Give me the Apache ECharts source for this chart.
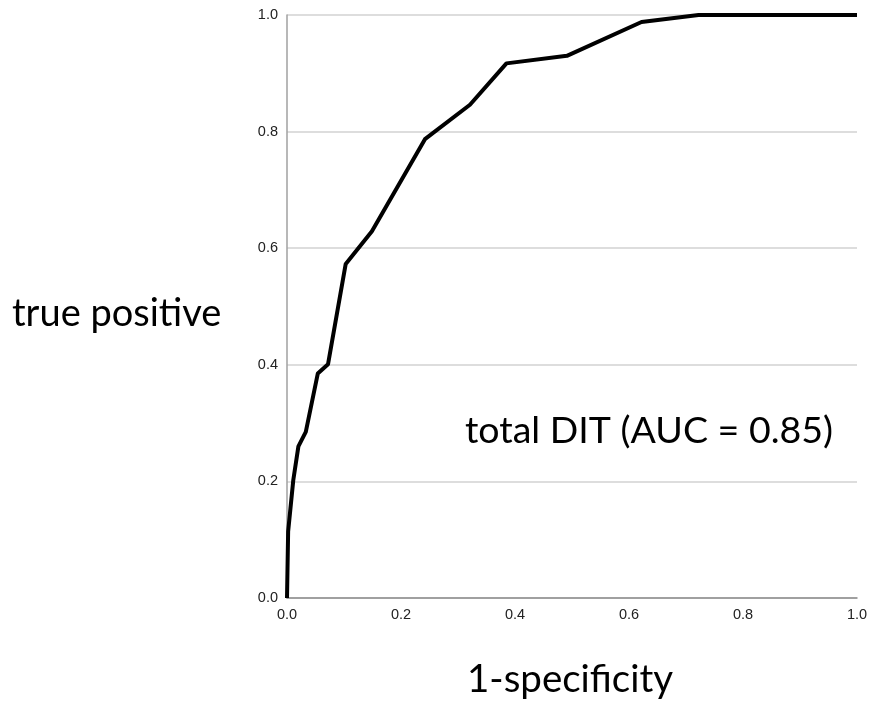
<!DOCTYPE html>
<html>
<head>
<meta charset="utf-8">
<script src="https://cdn.jsdelivr.net/npm/echarts@6/dist/echarts.min.js"></script>
<style>
html,body{margin:0;padding:0;background:#fff;}
#chart{width:873px;height:703px;}
</style>
</head>
<body>
<div id="chart"></div>
<script>
const fpr = [0, 0.002, 0.011, 0.02, 0.033, 0.054, 0.072, 0.103, 0.149, 0.242, 0.321, 0.385, 0.491, 0.622, 0.722, 1.0];
const tpr = [0, 0.114, 0.202, 0.26, 0.285, 0.385, 0.401, 0.573, 0.629, 0.787, 0.846, 0.917, 0.930, 0.988, 1.0, 1.0];
const yTitle = 'true positive';
const xTitle = '1-specificity';
const annotation = 'total DIT (AUC = 0.85)';

const chart = echarts.init(document.getElementById('chart'));
chart.setOption({
  backgroundColor: '#ffffff',
  animation: false,
  grid: { left: 287, top: 15, right: 16, bottom: 105 },
  xAxis: {
    type: 'value', min: 0, max: 1, interval: 0.2,
    axisLine: { show: true, lineStyle: { color: '#8c8c8c', width: 1.5 } },
    axisTick: { show: false },
    splitLine: { show: false },
    axisLabel: { color: '#222', fontFamily: 'Liberation Sans', fontSize: 14.5, margin: 9,
      formatter: v => v.toFixed(1) }
  },
  yAxis: {
    type: 'value', min: 0, max: 1, interval: 0.2,
    axisLine: { show: true, lineStyle: { color: '#a0a0a0', width: 1.5 } },
    axisTick: { show: false },
    splitLine: { show: true, lineStyle: { color: '#d2d2d2', width: 1.5 } },
    axisLabel: { color: '#222', fontFamily: 'Liberation Sans', fontSize: 14.5, margin: 9,
      formatter: v => v.toFixed(1) }
  },
  series: [{
    type: 'line',
    data: fpr.map((x, i) => [x, tpr[i]]),
    showSymbol: false,
    lineStyle: { color: '#000', width: 4, join: 'round' },
    z: 5
  }],
  graphic: [
    { type: 'text', x: 12, y: 314, style: { text: yTitle, font: '38px Lato', fill: '#000', verticalAlign: 'middle' } },
    { type: 'text', x: 465, y: 431, style: { text: annotation, font: '37.5px Lato', fill: '#000', verticalAlign: 'middle' } },
    { type: 'text', x: 467, y: 680, style: { text: xTitle, font: '38.5px Lato', fill: '#000', verticalAlign: 'middle' } }
  ]
});
</script>
</body>
</html>
